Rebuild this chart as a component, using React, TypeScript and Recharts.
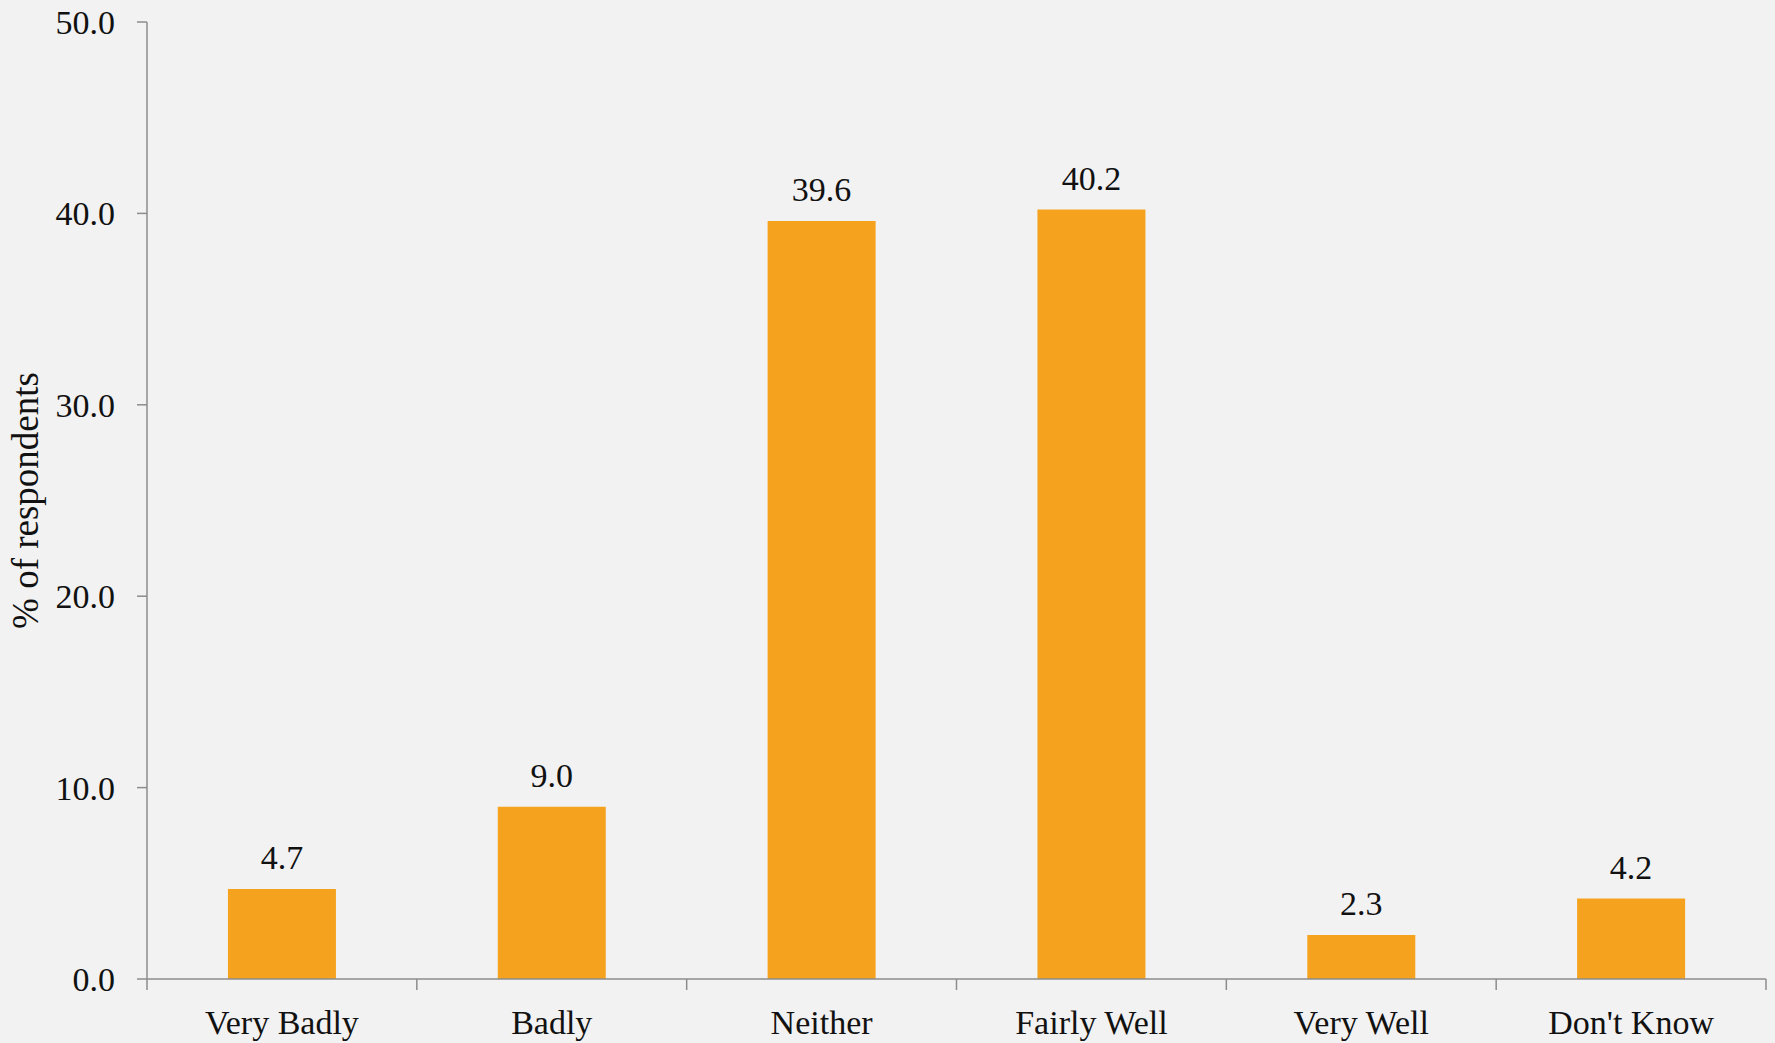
import { BarChart, Bar, XAxis, YAxis, LabelList } from 'recharts';

// Responses to "how well..." survey question (% of respondents)
const categories = ['Very Badly', 'Badly', 'Neither', 'Fairly Well', 'Very Well', "Don't Know"];
const shares = [4.7, 9.0, 39.6, 40.2, 2.3, 4.2];
const yTicks = [0, 10, 20, 30, 40, 50];

const data = categories.map((name, i) => ({ name, value: shares[i] }));

const FONT = '"Liberation Serif", "DejaVu Serif", serif';
const AXIS = '#8c8c8c';
const BAR = '#F5A31F';
const X_TICK_MARGIN = 31;
const X_TICK_LEN = 11;

const YLabel = ({ viewBox }: { viewBox?: { x: number; y: number; height: number } }) => {
  if (!viewBox) return null;
  const cx = 38;
  const cy = viewBox.y + viewBox.height / 2;
  return (
    <text
      x={cx}
      y={cy}
      transform={`rotate(-90, ${cx}, ${cy})`}
      textAnchor="middle"
      fontFamily={FONT}
      fontSize={37}
      fill="#111"
    >
      % of respondents
    </text>
  );
};

// category label centred in its band, tick marks drawn on the band edges
const CatTick = (props: any) => {
  const { x, y, payload, index, visibleTicksCount } = props;
  const half = payload?.offset ?? 0;
  const axisY = y - X_TICK_MARGIN;
  const isLast = index === visibleTicksCount - 1;
  return (
    <g>
      <line x1={x - half} x2={x - half} y1={axisY} y2={axisY + X_TICK_LEN} stroke={AXIS} strokeWidth={1.5} />
      {isLast && (
        <line x1={x + half} x2={x + half} y1={axisY} y2={axisY + X_TICK_LEN} stroke={AXIS} strokeWidth={1.5} />
      )}
      <text x={x} y={y} dy="0.71em" textAnchor="middle" fontFamily={FONT} fontSize={34} fill="#111">
        {payload.value}
      </text>
    </g>
  );
};

export default function App() {
  return (
    <div style={{ position: 'absolute', left: 0, top: 0, width: 1775, height: 1043, background: '#F2F2F2', overflow: 'hidden' }}>
      <BarChart
        width={1775}
        height={1043}
        data={data}
        margin={{ top: 22, right: 9, left: 0, bottom: 0 }}
        barCategoryGap="30%"
      >
        <XAxis
          dataKey="name"
          height={64}
          axisLine={{ stroke: AXIS, strokeWidth: 1.5 }}
          tickLine={false}
          tickSize={0}
          tickMargin={X_TICK_MARGIN}
          interval={0}
          tick={<CatTick />}
        />
        <YAxis
          domain={[0, 50]}
          ticks={yTicks}
          width={147}
          axisLine={{ stroke: AXIS, strokeWidth: 1.5 }}
          tickLine={{ stroke: AXIS, strokeWidth: 1.5 }}
          tickSize={10}
          tickMargin={22}
          tick={{ fontFamily: FONT, fontSize: 34, fill: '#111' }}
          tickFormatter={(v: number) => v.toFixed(1)}
          label={<YLabel />}
        />
        <Bar dataKey="value" fill={BAR} isAnimationActive={false}>
          <LabelList
            dataKey="value"
            position="top"
            offset={20}
            formatter={(v: number) => Number(v).toFixed(1)}
            style={{ fontFamily: FONT, fontSize: 34, fill: '#111' }}
          />
        </Bar>
      </BarChart>
    </div>
  );
}
